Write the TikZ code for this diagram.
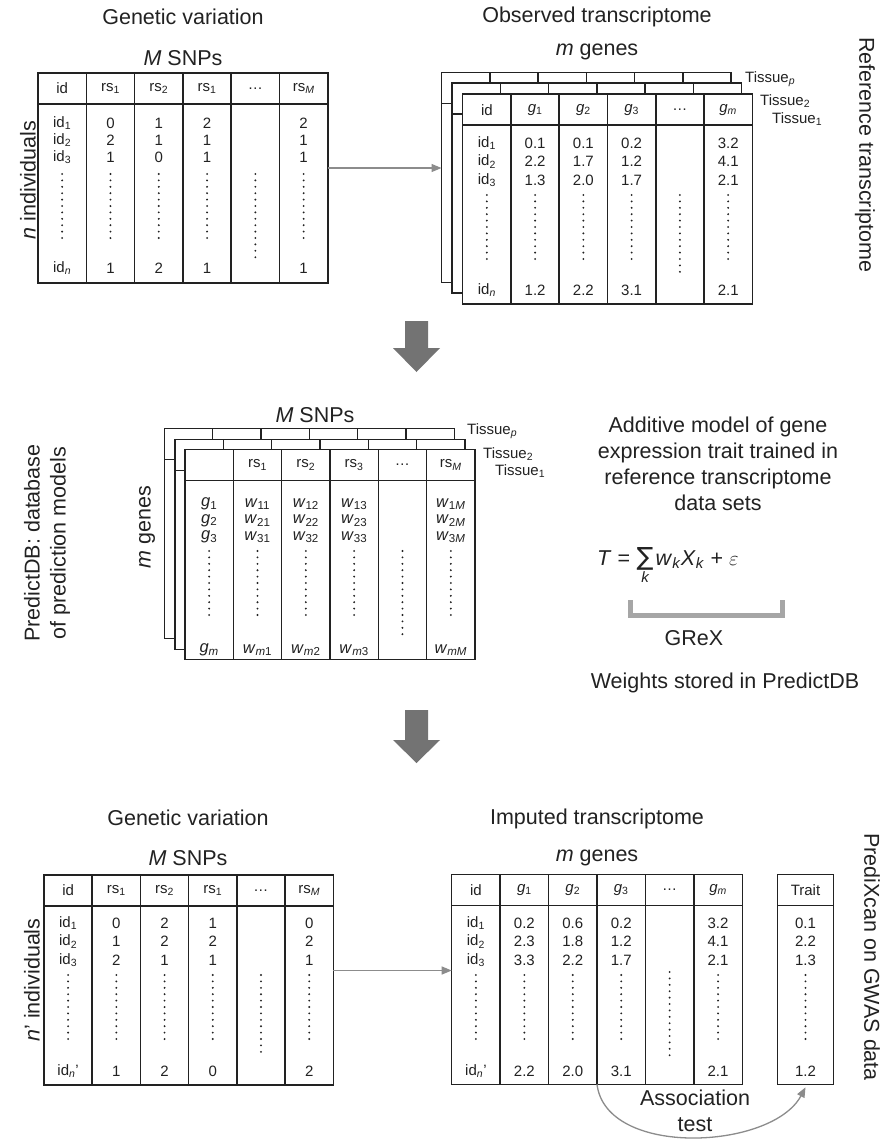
\documentclass[tikz,border=0pt]{standalone}
\usepackage{fontspec}
\setmainfont{Liberation Sans}
\newfontfamily\symfont{DejaVu Sans}
\usetikzlibrary{arrows.meta}
\definecolor{ink}{HTML}{222222}
\definecolor{arrowgray}{HTML}{8C8C8C}
\definecolor{biggray}{HTML}{737373}
\definecolor{brgray}{HTML}{A6A6A6}
\tikzset{
 tline/.style={draw=ink, line width=1.5pt},
 tframe/.style={draw=ink, line width=1.5pt, fill=white, inner sep=0pt, outer sep=0pt, rectangle},
 cell/.style={inner sep=0pt, font=\fontsize{15}{17}\selectfont, text=ink},
 cellw/.style={inner sep=0pt, font=\fontsize{16.5}{18}\selectfont, text=ink},
 title/.style={inner sep=0pt, font=\fontsize{21.5}{26}\selectfont, text=ink},
 tis/.style={inner sep=0pt, font=\fontsize{15}{17}\selectfont, text=ink, anchor=west},
 dotcol/.style={draw=ink, line width=2.1pt, line cap=round, dash pattern=on 0pt off 6.4pt},
 conn/.style={draw=arrowgray, line width=1.3pt, -{Triangle[length=10pt,width=8pt]}},
}
% name, x0, y0, ncols, colw
\newcommand\mkgrid[5]{%
  \pgfmathsetmacro\gw{#4*#5}%
  \node[tframe, minimum width=\gw pt, minimum height=210pt, anchor=north west] (#1) at (#2,#3) {};
  \draw[tline] (#2,#3+31) -- ++(\gw,0);
  \pgfmathtruncatemacro\nl{#4-1}%
  \ifnum\nl>0 \foreach \ii in {1,...,\nl} {\draw[tline] ({#2+\ii*#5},#3) -- ++(0,210);}\fi
}
% [style] prefix, x0, colw, y, list text/col
\newcommand\trow[6][cell]{\foreach \ct/\cc in {#6}{\node[#1] (#2-\cc) at ({#3+#4*(\cc-0.5)},#5) {\ct};}}
% x0, colw, col, ystart, yend
\newcommand\tdots[5]{\draw[dotcol] ({#1+#2*(#3-0.5)},#4) -- ({#1+#2*(#3-0.5)},#5);}
\newcommand\smallk{\mbox{\fontsize{15}{15}\selectfont\itshape k}}
\newcommand\bigsum{\mathop{\hbox{\fontsize{25}{25}\symfont ∑}}\limits_{\smallk}}
\begin{document}
\begin{tikzpicture}[x=1pt,y=-1pt]
\useasboundingbox[fill=white] (0,0) rectangle (886,1140);

% ---------------- top left
\node[title] (gv1) at (183,17) {Genetic variation};
\node[title] (ms1) at (183,58) {\textit{M} SNPs};
\node[title, rotate=90] (ni1) at (28,180) {\textit{n} individuals};
\mkgrid{T1}{38}{73}{6}{48.3}
\trow{T1h}{38}{48.3}{88.5}{id/1, rs\textsubscript{1}/2, rs\textsubscript{2}/3, rs\textsubscript{1}/4, …/5, rs\textsubscript{\textit{M}}/6}
\trow{T1a}{38}{48.3}{123}{id\textsubscript{1}/1, 0/2, 1/3, 2/4, 2/6}
\trow{T1b}{38}{48.3}{140}{id\textsubscript{2}/1, 2/2, 1/3, 1/4, 1/6}
\trow{T1c}{38}{48.3}{157}{id\textsubscript{3}/1, 1/2, 0/3, 1/4, 1/6}
\trow{T1n}{38}{48.3}{268}{id\textsubscript{\textit{n}}/1, 1/2, 2/3, 1/4, 1/6}
\foreach \k in {1,2,3,4,6} {\tdots{38}{48.3}{\k}{174}{238}}
\tdots{38}{48.3}{5}{174}{258}

% ---------------- top right
\node[title] (ot) at (597,17) {Observed transcriptome};
\node[title] (mg1) at (597,52) {\textit{m} genes};
\node[title, rotate=-90] (rt) at (865,155) {Reference transcriptome};
\mkgrid{T2c}{441.5}{72.5}{6}{48.27}
\mkgrid{T2b}{452}{83.2}{6}{48.27}
\mkgrid{T2}{462.7}{94}{6}{48.27}
\node[tis] (tp1) at (745,79) {Tissue\textsubscript{\textit{p}}};
\node[tis] (tt1) at (760,101) {Tissue\textsubscript{2}};
\node[tis] (to1) at (772,119) {Tissue\textsubscript{1}};
\trow{T2h}{462.7}{48.27}{110}{id/1, \textit{g}\textsubscript{1}/2, \textit{g}\textsubscript{2}/3, \textit{g}\textsubscript{3}/4, …/5, \textit{g}\textsubscript{\textit{m}}/6}
\trow{T2a}{462.7}{48.27}{143.3}{id\textsubscript{1}/1, 0.1/2, 0.1/3, 0.2/4, 3.2/6}
\trow{T2r}{462.7}{48.27}{161.7}{id\textsubscript{2}/1, 2.2/2, 1.7/3, 1.2/4, 4.1/6}
\trow{T2d}{462.7}{48.27}{180}{id\textsubscript{3}/1, 1.3/2, 2.0/3, 1.7/4, 2.1/6}
\trow{T2n}{462.7}{48.27}{290}{id\textsubscript{\textit{n}}/1, 1.2/2, 2.2/3, 3.1/4, 2.1/6}
\foreach \k in {1,2,3,4,6} {\tdots{462.7}{48.27}{\k}{195}{259}}
\tdots{462.7}{48.27}{5}{195}{277}

\draw[conn] ([yshift=10pt]T1.east) -- ([yshift=10pt]T1.east -| T2c.west);

% ---------------- big arrows
\fill[biggray] (405,321) -- (428,321) -- (428,348) -- (440,348) -- (416.5,372) -- (393,348) -- (405,348) -- cycle;
\fill[biggray] (405,710) -- (428,710) -- (428,740) -- (440,740) -- (416.5,763) -- (393,740) -- (405,740) -- cycle;

% ---------------- middle
\node[title, rotate=90, align=center] (pdb) at (47,543) {PredictDB: database\\of prediction models};
\node[title, rotate=90] (mg2) at (147,527) {\textit{m} genes};
\node[title] (ms2) at (315,415) {\textit{M} SNPs};
\mkgrid{T3c}{164.3}{428.3}{6}{48.33}
\mkgrid{T3b}{175}{439.3}{6}{48.33}
\mkgrid{T3}{185}{449.3}{6}{48.33}
\node[tis] (tp2) at (467,431) {Tissue\textsubscript{\textit{p}}};
\node[tis] (tt2) at (483,454) {Tissue\textsubscript{2}};
\node[tis] (to2) at (495,471) {Tissue\textsubscript{1}};
\trow{T3h}{185}{48.33}{465}{rs\textsubscript{1}/2, rs\textsubscript{2}/3, rs\textsubscript{3}/4, …/5, rs\textsubscript{\textit{M}}/6}
\trow[cellw]{T3a}{185}{48.33}{504}{\textit{g}\textsubscript{1}/1, \textit{w}\textsubscript{11}/2, \textit{w}\textsubscript{12}/3, \textit{w}\textsubscript{13}/4, \textit{w}\textsubscript{1\textit{M}}/6}
\trow[cellw]{T3r}{185}{48.33}{520.5}{\textit{g}\textsubscript{2}/1, \textit{w}\textsubscript{21}/2, \textit{w}\textsubscript{22}/3, \textit{w}\textsubscript{23}/4, \textit{w}\textsubscript{2\textit{M}}/6}
\trow[cellw]{T3d}{185}{48.33}{537}{\textit{g}\textsubscript{3}/1, \textit{w}\textsubscript{31}/2, \textit{w}\textsubscript{32}/3, \textit{w}\textsubscript{33}/4, \textit{w}\textsubscript{3\textit{M}}/6}
\trow[cellw]{T3n}{185}{48.33}{650}{\textit{g}\textsubscript{\textit{m}}/1, \textit{w}\textsubscript{\textit{m}1}/2, \textit{w}\textsubscript{\textit{m}2}/3, \textit{w}\textsubscript{\textit{m}3}/4, \textit{w}\textsubscript{\textit{mM}}/6}
\foreach \k in {1,2,3,4,6} {\tdots{185}{48.33}{\k}{551}{615}}
\tdots{185}{48.33}{5}{551}{636}

\node[title, align=center] (am) at (718,464) {Additive model of gene\\expression trait trained in\\reference transcriptome\\data sets};
\node[title, anchor=base west] (eq) at (597,565) {\textit{T} =\hspace{0.3em}$\bigsum$\hspace{0.1em}\textit{w}\textsubscript{\textit{k}}\textit{X}\textsubscript{\textit{k}} + $\varepsilon$};
\draw[brgray, line width=5pt] (630,600) -- (630,615.5) -- (782,615.5) -- (782,600);
\node[title] (grex) at (694,638) {GReX};
\node[title] (wts) at (725,683) {Weights stored in PredictDB};

% ---------------- bottom left
\node[title] (gv2) at (188,818) {Genetic variation};
\node[title] (ms3) at (188,858) {\textit{M} SNPs};
\node[title, rotate=90] (ni2) at (32,980) {\textit{n}’ individuals};
\mkgrid{T4}{44}{875}{6}{48.22}
\trow{T4h}{44}{48.22}{890.5}{id/1, rs\textsubscript{1}/2, rs\textsubscript{2}/3, rs\textsubscript{1}/4, …/5, rs\textsubscript{\textit{M}}/6}
\trow{T4a}{44}{48.22}{923}{id\textsubscript{1}/1, 0/2, 2/3, 1/4, 0/6}
\trow{T4r}{44}{48.22}{941.5}{id\textsubscript{2}/1, 1/2, 2/3, 2/4, 2/6}
\trow{T4d}{44}{48.22}{960}{id\textsubscript{3}/1, 2/2, 1/3, 1/4, 1/6}
\trow{T4n}{44}{48.22}{1071}{id\textsubscript{\textit{n}}’/1, 1/2, 2/3, 0/4, 2/6}
\foreach \k in {1,2,3,4,6} {\tdots{44}{48.22}{\k}{975}{1039}}
\tdots{44}{48.22}{5}{975}{1057}

% ---------------- bottom right
\node[title] (it) at (597,819) {Imputed transcriptome};
\node[title] (mg3) at (597,858) {\textit{m} genes};
\node[title, rotate=-90] (pxc) at (872,957) {PrediXcan on GWAS data};
\mkgrid{T5}{451.7}{874.3}{6}{48.43}
\trow{T5h}{451.7}{48.43}{890}{id/1, \textit{g}\textsubscript{1}/2, \textit{g}\textsubscript{2}/3, \textit{g}\textsubscript{3}/4, …/5, \textit{g}\textsubscript{\textit{m}}/6}
\trow{T5a}{451.7}{48.43}{923}{id\textsubscript{1}/1, 0.2/2, 0.6/3, 0.2/4, 3.2/6}
\trow{T5r}{451.7}{48.43}{941.5}{id\textsubscript{2}/1, 2.3/2, 1.8/3, 1.2/4, 4.1/6}
\trow{T5d}{451.7}{48.43}{960}{id\textsubscript{3}/1, 3.3/2, 2.2/3, 1.7/4, 2.1/6}
\trow{T5n}{451.7}{48.43}{1071}{id\textsubscript{\textit{n}}’/1, 2.2/2, 2.0/3, 3.1/4, 2.1/6}
\foreach \k in {1,2,3,4,6} {\tdots{451.7}{48.43}{\k}{975}{1039}}
\tdots{451.7}{48.43}{5}{972}{1057}

\mkgrid{Tr}{777.7}{874.3}{1}{55.6}
\trow{Trh}{777.7}{55.6}{890}{Trait/1}
\trow{Tra}{777.7}{55.6}{923}{0.1/1}
\trow{Trr}{777.7}{55.6}{941.5}{2.2/1}
\trow{Trd}{777.7}{55.6}{960}{1.3/1}
\trow{Trn}{777.7}{55.6}{1071}{1.2/1}
\tdots{777.7}{55.6}{1}{975}{1039}

\draw[conn] ([yshift=9.5pt]T4.east) -- ([yshift=9.5pt]T4.east -| T5.west);
\coordinate (asc) at ([xshift=145.3pt]T5.south west);
\draw[conn] (asc) .. controls (606,1158) and (772,1150) .. ([yshift=-3pt]Tr.south);
\node[title, align=center] (at) at (695,1111) {Association\\test};
\end{tikzpicture}
\end{document}
